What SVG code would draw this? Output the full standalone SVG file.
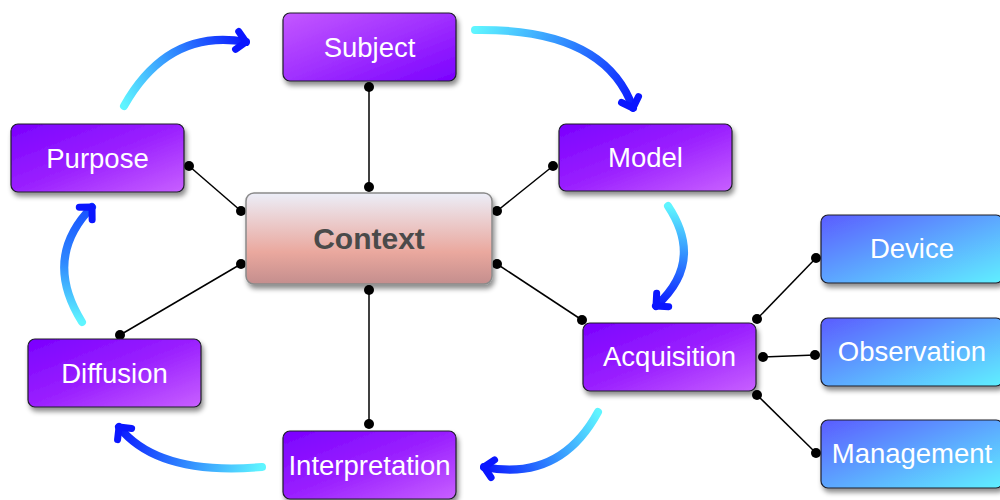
<svg xmlns="http://www.w3.org/2000/svg" width="1000" height="500" viewBox="0 0 1000 500">
<defs>
<style>
.node{stroke:#1e1e2a;stroke-width:1.2;filter:url(#sh)}
.lbl{font-family:"Liberation Sans",Arial,sans-serif;font-size:27.5px;fill:#fff;text-anchor:middle}
.ctx{font-family:"Liberation Sans",Arial,sans-serif;font-size:30px;font-weight:bold;fill:#4a4a4a;text-anchor:middle}
.con{stroke:#000;stroke-width:1.5;fill:none}
.dot{fill:#000}
.arr{fill:none;stroke-width:8;stroke-linecap:round}
.head{fill:none;stroke:#0a16ff;stroke-width:7;stroke-linecap:round;stroke-linejoin:round}
</style>
<filter id="sh" x="-10%" y="-10%" width="125%" height="140%">
<feDropShadow dx="2" dy="4" stdDeviation="2.5" flood-color="#000" flood-opacity="0.45"/>
</filter>
<linearGradient id="pur" x1="0" y1="0" x2="1" y2="1">
<stop offset="0" stop-color="#7a00ff"/>
<stop offset="0.5" stop-color="#9a20ff"/>
<stop offset="1" stop-color="#c860ff"/>
</linearGradient>
<linearGradient id="purR" x1="0" y1="0" x2="1" y2="1">
<stop offset="0" stop-color="#c458ff"/>
<stop offset="0.5" stop-color="#a030ff"/>
<stop offset="1" stop-color="#7a00ff"/>
</linearGradient>
<linearGradient id="blu" x1="0" y1="0" x2="1" y2="1">
<stop offset="0" stop-color="#5a5cff"/>
<stop offset="1" stop-color="#5ff0ff"/>
</linearGradient>
<linearGradient id="ctxg" x1="0" y1="0" x2="0" y2="1">
<stop offset="0" stop-color="#eceef8"/>
<stop offset="0.65" stop-color="#eaa89e"/>
<stop offset="1" stop-color="#c48e8e"/>
</linearGradient>
<linearGradient id="a1" gradientUnits="userSpaceOnUse" x1="124" y1="106" x2="248" y2="42">
<stop offset="0" stop-color="#5ff5ff"/><stop offset="0.5" stop-color="#2f88ff"/><stop offset="1" stop-color="#0a16ff"/>
</linearGradient>
<linearGradient id="a2" gradientUnits="userSpaceOnUse" x1="475" y1="30" x2="635" y2="110">
<stop offset="0" stop-color="#5ff5ff"/><stop offset="0.5" stop-color="#2f88ff"/><stop offset="1" stop-color="#0a16ff"/>
</linearGradient>
<linearGradient id="a3" gradientUnits="userSpaceOnUse" x1="668" y1="206" x2="655" y2="306">
<stop offset="0" stop-color="#5ff5ff"/><stop offset="0.5" stop-color="#2f88ff"/><stop offset="1" stop-color="#0a16ff"/>
</linearGradient>
<linearGradient id="a4" gradientUnits="userSpaceOnUse" x1="598" y1="412" x2="484" y2="467">
<stop offset="0" stop-color="#5ff5ff"/><stop offset="0.5" stop-color="#2f88ff"/><stop offset="1" stop-color="#0a16ff"/>
</linearGradient>
<linearGradient id="a5" gradientUnits="userSpaceOnUse" x1="262" y1="467" x2="118" y2="426">
<stop offset="0" stop-color="#5ff5ff"/><stop offset="0.5" stop-color="#2f88ff"/><stop offset="1" stop-color="#0a16ff"/>
</linearGradient>
<linearGradient id="a6" gradientUnits="userSpaceOnUse" x1="82" y1="322" x2="92" y2="206">
<stop offset="0" stop-color="#5ff5ff"/><stop offset="0.5" stop-color="#2f88ff"/><stop offset="1" stop-color="#1650ff"/>
</linearGradient>
<marker id="chev" markerUnits="userSpaceOnUse" markerWidth="30" markerHeight="30" refX="0" refY="0" orient="auto" overflow="visible" viewBox="-15 -15 30 30">
<path class="head" d="M-9,-9 L0,0 L-9,9"/>
</marker>
</defs>

<g id="connectors">
<line class="con" x1="369" y1="87" x2="369" y2="187"/>
<line class="con" x1="189" y1="166" x2="241" y2="211"/>
<line class="con" x1="553" y1="166" x2="497" y2="211"/>
<line class="con" x1="241" y1="264" x2="120" y2="335"/>
<line class="con" x1="369" y1="290" x2="369" y2="424"/>
<line class="con" x1="497" y1="264" x2="582" y2="320"/>
<line class="con" x1="757" y1="319" x2="816" y2="258"/>
<line class="con" x1="763" y1="357" x2="815" y2="355"/>
<line class="con" x1="757" y1="395" x2="816" y2="453"/>
<g class="dot">
<circle cx="369" cy="87" r="5"/><circle cx="369" cy="187" r="5"/>
<circle cx="189" cy="166" r="5"/><circle cx="241" cy="211" r="5"/>
<circle cx="553" cy="166" r="5"/><circle cx="497" cy="211" r="5"/>
<circle cx="241" cy="264" r="5"/><circle cx="120" cy="335" r="5"/>
<circle cx="369" cy="290" r="5"/><circle cx="369" cy="424" r="5"/>
<circle cx="497" cy="264" r="5"/><circle cx="582" cy="320" r="5"/>
<circle cx="757" cy="319" r="5"/><circle cx="816" cy="258" r="5"/>
<circle cx="763" cy="357" r="5"/><circle cx="815" cy="355" r="5"/>
<circle cx="757" cy="395" r="5"/><circle cx="816" cy="453" r="5"/>
</g>
</g>

<g id="cycle-arrows">
<path class="arr" stroke="url(#a1)" d="M124,106 Q168,28 246,42" marker-end="url(#chev)"/>
<path class="arr" stroke="url(#a2)" d="M475,30 Q605,28 633,108" marker-end="url(#chev)"/>
<path class="arr" stroke="url(#a3)" d="M668,206 Q705,262 656,306" marker-end="url(#chev)"/>
<path class="arr" stroke="url(#a4)" d="M598,412 Q560,482 484,467" marker-end="url(#chev)"/>
<path class="arr" stroke="url(#a5)" d="M262,467 Q158,476 119,427" marker-end="url(#chev)"/>
<path class="arr" stroke="url(#a6)" d="M82,322 Q42,258 92,207" marker-end="url(#chev)"/>
</g>

<g id="node-subject"><rect class="node" x="283" y="13" width="173" height="68" rx="7" fill="url(#purR)"/><text class="lbl" x="369.5" y="56.5">Subject</text></g>
<g id="node-purpose"><rect class="node" x="11" y="124" width="173" height="68" rx="7" fill="url(#pur)"/><text class="lbl" x="97.5" y="167.5">Purpose</text></g>
<g id="node-model"><rect class="node" x="559" y="124" width="173" height="67" rx="7" fill="url(#pur)"/><text class="lbl" x="645.5" y="167">Model</text></g>
<g id="node-context"><rect x="246" y="193" width="246" height="91" rx="8" fill="url(#ctxg)" stroke="#8a8a8a" stroke-width="1.5" filter="url(#sh)"/><text class="ctx" x="369" y="249">Context</text></g>
<g id="node-diffusion"><rect class="node" x="28" y="339" width="173" height="68" rx="7" fill="url(#pur)"/><text class="lbl" x="114.5" y="382.5">Diffusion</text></g>
<g id="node-interpretation"><rect class="node" x="283" y="431" width="173" height="68" rx="7" fill="url(#pur)"/><text class="lbl" x="369.5" y="474.5">Interpretation</text></g>
<g id="node-acquisition"><rect class="node" x="583" y="323" width="173" height="68" rx="7" fill="url(#pur)"/><text class="lbl" x="669.5" y="366">Acquisition</text></g>
<g id="node-device"><rect class="node" x="821" y="215" width="182" height="68" rx="7" fill="url(#blu)"/><text class="lbl" x="912" y="258">Device</text></g>
<g id="node-observation"><rect class="node" x="821" y="318" width="182" height="68" rx="7" fill="url(#blu)"/><text class="lbl" x="912" y="361">Observation</text></g>
<g id="node-management"><rect class="node" x="821" y="420" width="182" height="68" rx="7" fill="url(#blu)"/><text class="lbl" x="912" y="463">Management</text></g>
</svg>
